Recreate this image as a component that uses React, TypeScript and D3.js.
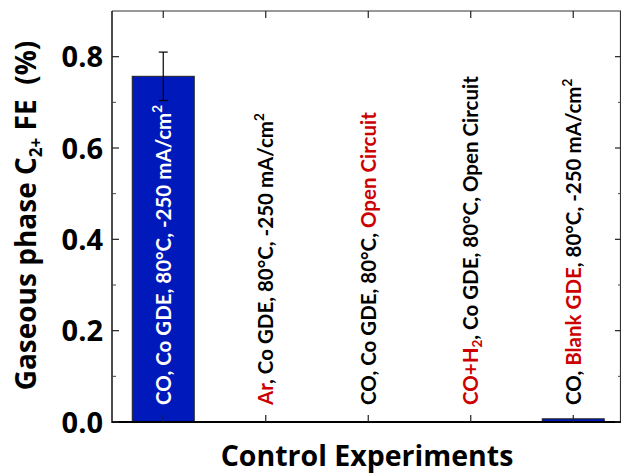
import React from "react";
import * as d3 from "d3";

// Control experiments: gaseous C2+ Faradaic efficiency
type Seg = { t: string; red?: boolean; sub?: string; sup?: string };

const categories: Seg[][] = [
  [{ t: "CO, Co GDE, 80°C, -250 mA/cm", sup: "2" }],
  [{ t: "Ar", red: true }, { t: ", Co GDE, 80°C, -250 mA/cm", sup: "2" }],
  [{ t: "CO, Co GDE, 80°C, " }, { t: "Open Circuit", red: true }],
  [{ t: "CO+H", red: true, sub: "2" }, { t: ", Co GDE, 80°C, Open Circuit" }],
  [{ t: "CO, " }, { t: "Blank GDE", red: true }, { t: ", 80°C, -250 mA/cm", sup: "2" }],
];
const values = [0.757, 0, 0, 0, 0.007];
const errors = [0.053, 0, 0, 0, 0];
const yMajorTicks = [0, 0.2, 0.4, 0.6, 0.8];
const yMinorTicks = [0.1, 0.3, 0.5, 0.7];

const W = 621;
const H = 475;
const left = 112;
const right = 621;
const top = 11;
const bottom = 422;

const FONT = "'Open Sans', 'DejaVu Sans', sans-serif";
const LABEL_FONT = "Lato, 'Open Sans', sans-serif";
const BLUE = "#0019BA";
const RED = "#CC0000";

// flatten a label into tspans, restoring the baseline after sub/superscripts
function labelSpans(segs: Seg[]) {
  const out: React.ReactNode[] = [];
  let shift = 0;
  segs.forEach((s, j) => {
    out.push(
      <tspan key={j + "t"} fill={s.red ? RED : undefined} dy={shift !== 0 ? -shift : undefined}>
        {s.t}
      </tspan>
    );
    shift = 0;
    if (s.sub) {
      out.push(
        <tspan key={j + "s"} fill={s.red ? RED : undefined} fontSize={13.5} dy={4}>
          {s.sub}
        </tspan>
      );
      shift = 4;
    }
    if (s.sup) {
      out.push(
        <tspan key={j + "p"} fontSize={13.5} dy={-9}>
          {s.sup}
        </tspan>
      );
      shift = -9;
    }
  });
  return out;
}

export default function App() {
  const idx = d3.range(categories.length);
  const x = d3.scaleLinear().domain([0.5, 5.5]).range([left, left + 5 * 102.5]);
  const y = d3.scaleLinear().domain([0, 0.9]).range([bottom, top]);
  const barW = 62;
  const fmt = d3.format(".1f");

  return (
    <svg
      width={W}
      height={H}
      style={{ position: "absolute", left: 0, top: 0, display: "block", background: "#fff" }}
      fontFamily={FONT}
    >
      {/* bars */}
      {idx.map((i) =>
        values[i] > 0 ? (
          <rect
            key={"b" + i}
            x={x(i + 1) - barW / 2}
            y={y(values[i])}
            width={barW}
            height={y(0) - y(values[i])}
            fill={BLUE}
            stroke="#222"
            strokeWidth={1}
          />
        ) : null
      )}

      {/* error bars */}
      {idx.map((i) =>
        errors[i] > 0 ? (
          <g key={"e" + i} stroke="#000" strokeWidth={1.2}>
            <line x1={x(i + 1)} x2={x(i + 1)} y1={y(values[i] + errors[i])} y2={y(values[i] - errors[i])} />
            <line x1={x(i + 1) - 4.5} x2={x(i + 1) + 4.5} y1={y(values[i] + errors[i])} y2={y(values[i] + errors[i])} />
            <line x1={x(i + 1) - 4.5} x2={x(i + 1) + 4.5} y1={y(values[i] - errors[i])} y2={y(values[i] - errors[i])} />
          </g>
        ) : null
      )}

      {/* category labels, rotated inside the plot */}
      {idx.map((i) => (
        <text
          key={"l" + i}
          transform={`translate(${x(i + 1) + 7.5},405) rotate(-90)`}
          fontFamily={LABEL_FONT}
          fontSize={20.5}
          fontWeight={700}
          fill={i === 0 ? "#fff" : "#000"}
        >
          {labelSpans(categories[i])}
        </text>
      ))}

      {/* frame */}
      <line x1={left} x2={right} y1={top} y2={top} stroke="#333" strokeWidth={1.2} />
      <line x1={right - 0.5} x2={right - 0.5} y1={top} y2={bottom} stroke="#333" strokeWidth={1.2} />
      <line x1={left} x2={left} y1={top} y2={bottom + 1} stroke="#111" strokeWidth={1.5} />
      <line x1={left} x2={right} y1={bottom} y2={bottom} stroke="#000" strokeWidth={2} />

      {/* y ticks, left and right, inward */}
      {yMajorTicks.map((v) => (
        <g key={"ym" + v} stroke="#222" strokeWidth={1.2}>
          <line x1={left} x2={left + 7} y1={y(v)} y2={y(v)} />
          <line x1={right} x2={right - 6} y1={y(v)} y2={y(v)} />
        </g>
      ))}
      {yMinorTicks.map((v) => (
        <g key={"yn" + v} stroke="#444" strokeWidth={1}>
          <line x1={left} x2={left + 4} y1={y(v)} y2={y(v)} />
          <line x1={right} x2={right - 3} y1={y(v)} y2={y(v)} />
        </g>
      ))}
      {yMajorTicks.map((v) => (
        <text
          key={"yt" + v}
          x={103}
          y={y(v) - 1}
          textAnchor="end"
          dominantBaseline="central"
          fontSize={29}
          fontWeight={700}
          fill="#000"
        >
          {fmt(v)}
        </text>
      ))}

      {/* x ticks, bottom and top, inward */}
      {idx.map((i) => (
        <g key={"xt" + i} stroke="#222" strokeWidth={1.2}>
          <line x1={x(i + 1)} x2={x(i + 1)} y1={bottom} y2={bottom - 7} />
          <line x1={x(i + 1)} x2={x(i + 1)} y1={top} y2={top + 7} />
        </g>
      ))}

      {/* axis titles */}
      <text
        transform={`translate(36,${(top + bottom) / 2 - 1}) rotate(-90)`}
        textAnchor="middle"
        fontSize={28}
        fontWeight={700}
        fill="#000"
      >
        Gaseous phase C
        <tspan fontSize={17} dy={6}>
          2+
        </tspan>
        <tspan dy={-6}>{" FE\u00a0\u00a0(%)"}</tspan>
      </text>
      <text x={367} y={466} textAnchor="middle" fontSize={28.5} fontWeight={700} fill="#000">
        Control Experiments
      </text>
    </svg>
  );
}
